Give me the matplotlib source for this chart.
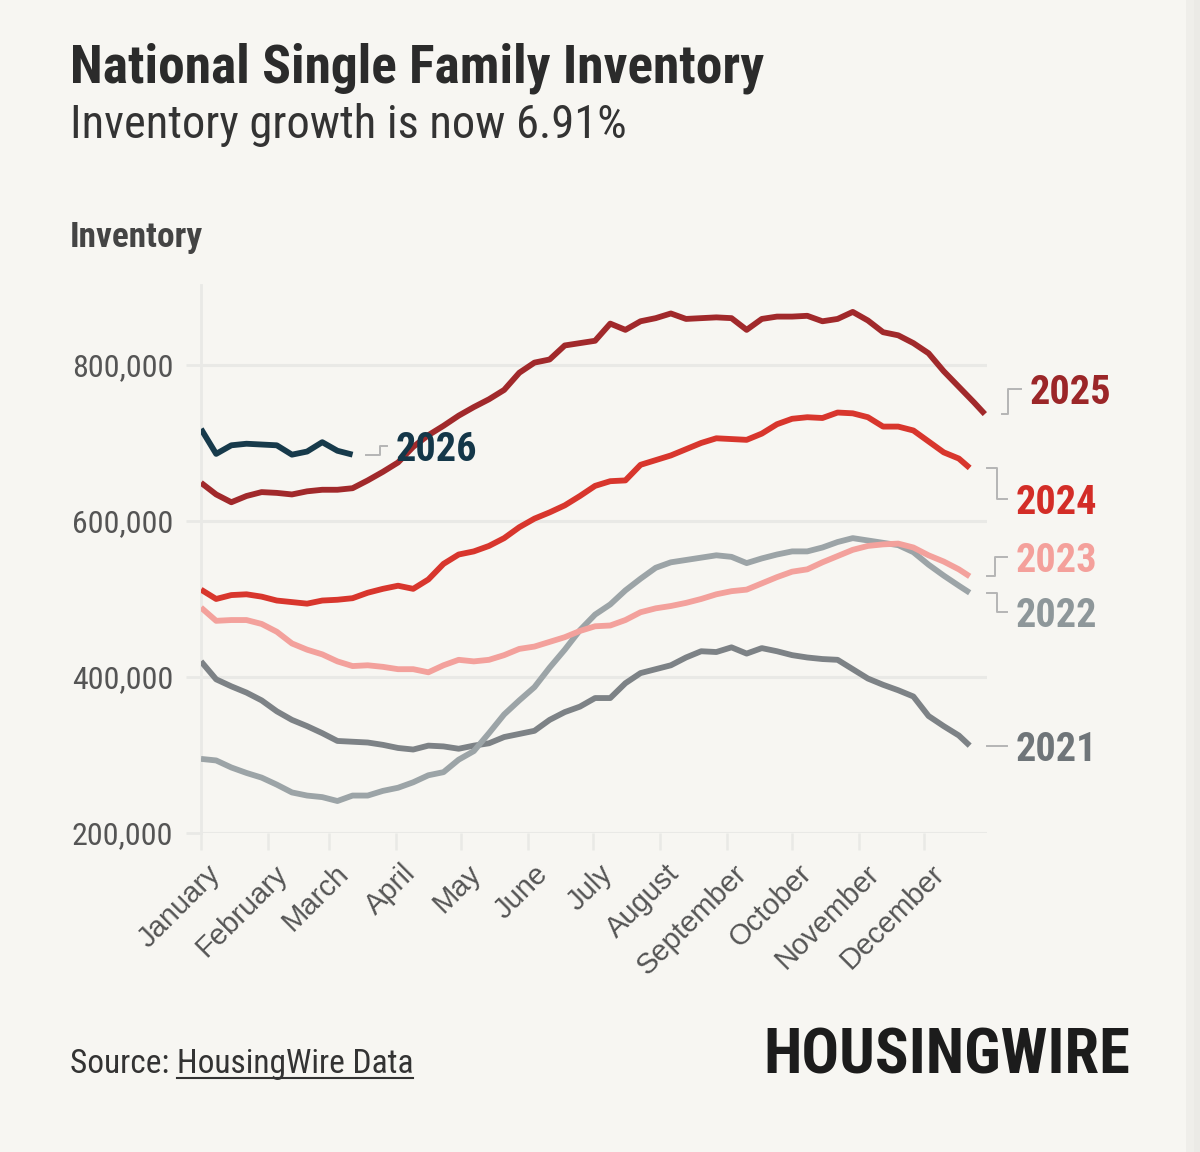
import matplotlib
matplotlib.use('Agg')
import matplotlib.pyplot as plt
from matplotlib import font_manager as fm
from matplotlib.lines import Line2D
from matplotlib.patches import Rectangle
from matplotlib.transforms import IdentityTransform


names = {f.name for f in fm.fontManager.ttflist}


def pick(*cands):
    for c in cands:
        if c in names:
            return c
    return 'DejaVu Sans'


COND = pick('Roboto Condensed', 'Liberation Sans Narrow', 'Roboto')
PLAIN = pick('Liberation Sans', 'Arimo', 'DejaVu Sans')

# ---- data (thousands of homes, weekly) ----
months = ['January', 'February', 'March', 'April', 'May', 'June', 'July',
          'August', 'September', 'October', 'November', 'December']
month_days = [1, 32, 60, 91, 121, 152, 182, 213, 244, 274, 305, 335]

days = list(range(1, 352, 7)) + [356]
days_2025 = list(range(1, 359, 7)) + [363]
days_2026 = list(range(1, 72, 7))

inv_2021 = [420, 397, 388, 380, 370, 356, 345, 337, 328, 318, 317, 316, 313, 309,
            307, 312, 311, 308, 312, 315, 323, 327, 331, 345, 355, 362, 373, 373,
            392, 405, 410, 415, 425, 433, 432, 438, 430, 437, 433, 428, 425, 423,
            422, 410, 398, 390, 383, 375, 350, 337, 325, 312]
inv_2022 = [295, 293, 284, 277, 271, 262, 252, 248, 246, 241, 248, 248, 254, 258,
            265, 274, 278, 294, 305, 328, 352, 370, 387, 412, 435, 460, 480, 493,
            511, 526, 540, 547, 550, 553, 556, 554, 546, 552, 557, 561, 561, 566,
            573, 578, 575, 572, 569, 560, 544, 530, 517, 508]
inv_2023 = [489, 472, 473, 473, 468, 458, 443, 435, 429, 420, 414, 415, 413, 410,
            410, 406, 415, 422, 420, 422, 428, 436, 439, 445, 451, 459, 465, 466,
            473, 483, 488, 491, 495, 500, 506, 510, 512, 520, 528, 535, 538, 547,
            555, 563, 568, 570, 571, 566, 556, 548, 538, 529]
inv_2024 = [512, 500, 505, 506, 503, 498, 496, 494, 498, 499, 501, 508, 513, 517,
            513, 525, 545, 557, 561, 568, 578, 592, 603, 611, 620, 632, 645, 651,
            652, 672, 678, 684, 692, 700, 706, 705, 704, 712, 724, 731, 733, 732,
            739, 738, 733, 721, 721, 716, 702, 688, 680, 668]
inv_2025 = [649, 634, 624, 632, 637, 636, 634, 638, 640, 640, 642, 652, 663, 675,
            695, 710, 722, 735, 746, 756, 768, 790, 803, 807, 825, 828, 831, 853,
            845, 856, 860, 866, 859, 860, 861, 860, 845, 859, 862, 862, 863, 856,
            859, 868, 857, 842, 838, 828, 815, 792, 772, 752, 737]
inv_2026 = [718, 686, 697, 699, 698, 697, 685, 689, 701, 690, 685]

yticks = [200000, 400000, 600000, 800000]

# ---- styles ----
BG = '#f7f6f2'
GRID = '#e9e9e6'
series = [
    # label, x, y, line colour, label colour, (start, elbow, end, text) px, dy px
    ('2021', days, inv_2021, '#7d8286', '#6f7579', (17, 27, 37, 46), 0),
    ('2022', days, inv_2022, '#9ca4a7', '#8e979a', (17, 27, 37, 46), -19),
    ('2023', days, inv_2023, '#f3a19c', '#f4a09b', (17, 25, 37, 46), 19),
    ('2024', days, inv_2024, '#d8362d', '#d32d27', (17, 27, 37, 46), -31),
    ('2025', days_2025, inv_2025, '#a1292b', '#9b2628', (17, 23, 36, 45), 25),
    ('2026', days_2026, inv_2026, '#173a4b', '#143749', (13, 27, 34, 43), 9),
]

W, H, DPI = 1200, 1152, 100
fig = plt.figure(figsize=(W / DPI, H / DPI), dpi=DPI, facecolor=BG)
# faint shadow along the right edge
fig.add_artist(Rectangle((1186 / W, 0), 14 / W, 1, transform=fig.transFigure,
                         color='#efeeea', lw=0, zorder=0))
fig.add_artist(Rectangle((1194 / W, 0), 6 / W, 1, transform=fig.transFigure,
                         color='#ebeae6', lw=0, zorder=0))

ax = fig.add_axes([201 / W, 1 - 833 / H, (987 - 201) / W, (833 - 285) / H])
ax.set_facecolor(BG)
ax.set_xlim(1, 364)
ax.set_ylim(200000, 902500)

for lab, x, y, c, lc, off, dy in series:
    ax.plot(x, [v * 1000 for v in y], color=c, lw=4.2, solid_capstyle='butt',
            solid_joinstyle='round', zorder=3)

ax.set_yticks(yticks)
ax.set_yticklabels([f'{v:,}' for v in yticks], fontfamily=COND, fontsize=23,
                   color='#555555')
ax.set_xticks(month_days)
ax.set_xticklabels([])
ax.grid(axis='y', color=GRID, lw=2.2, zorder=0)
ax.tick_params(axis='y', length=11, width=2, color=GRID, pad=9)
ax.tick_params(axis='x', length=12, width=1.8, color=GRID)
for s in ['top', 'right', 'bottom']:
    ax.spines[s].set_visible(False)
ax.spines['left'].set_color(GRID)
ax.spines['left'].set_linewidth(2)

# rotated month labels, anchored at the tick
for d, m in zip(month_days, months):
    ax.annotate(m, xy=(d, 200000), xycoords='data', xytext=(4, -19),
                textcoords='offset points', rotation=45, rotation_mode='anchor',
                ha='right', va='top', fontfamily=PLAIN, fontsize=21,
                color='#555555', annotation_clip=False)

# end labels with elbow connectors (display pixels)
ident = IdentityTransform()
for lab, x, y, c, lc, (s0, e0, t0, tx), dy in series:
    px, py = ax.transData.transform((x[-1], y[-1] * 1000))
    ty = py + dy
    if dy == 0:
        pts = [(px + s0, py), (px + t0, py)]
    else:
        pts = [(px + s0, py), (px + e0, py), (px + e0, ty), (px + t0, ty)]
    fig.add_artist(Line2D([p[0] for p in pts], [p[1] for p in pts],
                          transform=ident, color='#b5b5b5', lw=1.4))
    fig.text(px + tx, ty, lab, transform=ident, ha='left', va='center_baseline',
             fontfamily=COND, fontweight='bold', fontsize=29, color=lc)

# titles
fig.text(70 / W, 1 - 83 / H, 'National Single Family Inventory', fontfamily=COND,
         fontweight='bold', fontsize=38.5, color='#2b2b2b', ha='left', va='baseline')
fig.text(70 / W, 1 - 138 / H, 'Inventory growth is now 6.91%', fontfamily=COND,
         fontsize=33.5, color='#333333', ha='left', va='baseline')
fig.text(70 / W, 1 - 247 / H, 'Inventory', fontfamily=COND, fontweight='bold',
         fontsize=25.5, color='#444444', ha='left', va='baseline')

# footer
src = fig.text(70 / W, 1 - 1073 / H, 'Source: ', fontfamily=COND, fontsize=24,
               color='#333333', ha='left', va='baseline')
fig.canvas.draw()
r = fig.canvas.get_renderer()
bb = src.get_window_extent(r)
link = fig.text(bb.x1, H - 1073, 'HousingWire Data', transform=ident,
                fontfamily=COND, fontsize=24, color='#333333', ha='left',
                va='baseline')
fig.canvas.draw()
lb = link.get_window_extent(r)
fig.add_artist(Line2D([lb.x0, lb.x1], [H - 1078, H - 1078], transform=ident,
                      color='#333333', lw=1.5))

fig.text(1130 / W, 1 - 1074 / H, 'HOUSINGWIRE', fontfamily=COND, fontweight='black',
         fontsize=45, color='#1c1c1c', ha='right', va='baseline')

fig.savefig('out.png', dpi=DPI, facecolor=BG)
